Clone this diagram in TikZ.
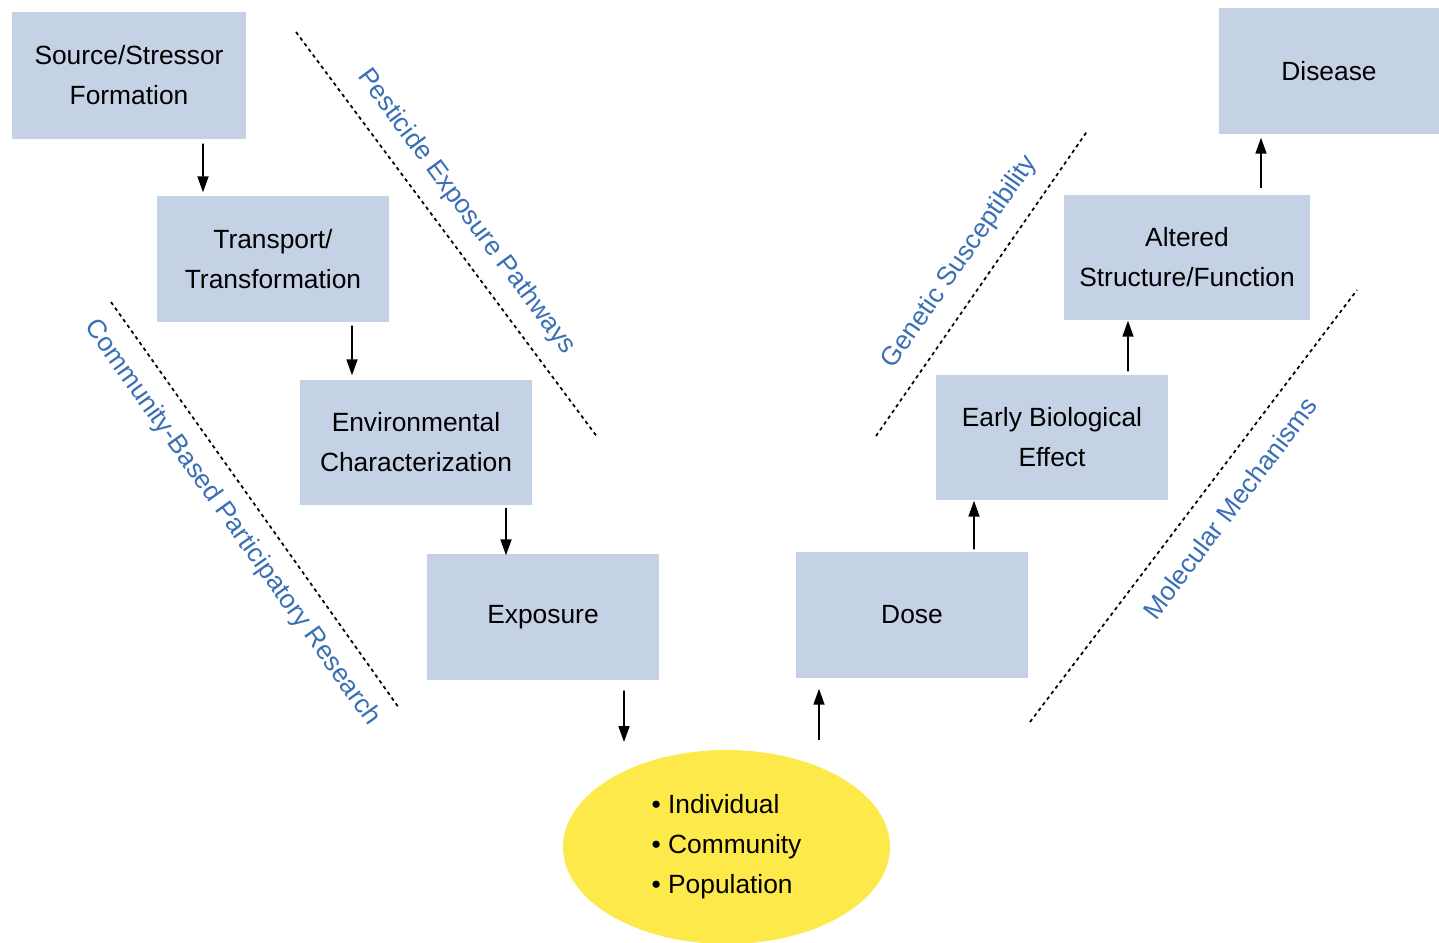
\documentclass[tikz,border=0pt]{standalone}
\usepackage{fontspec}
\setmainfont{Liberation Sans}
\usetikzlibrary{arrows.meta,shapes.geometric}
\definecolor{boxblue}{HTML}{C5D2E6}
\definecolor{labblue}{HTML}{3A6EB5}
\definecolor{popyellow}{HTML}{FDE94A}
\tikzset{
  box/.style={fill=boxblue, align=center, inner sep=0pt, font=\fontsize{7.5}{11.4}\selectfont},
  arr/.style={-{Triangle[length=1.6mm,width=1.1mm]}, line width=0.5pt},
  sep/.style={line width=0.5pt, dash pattern=on 1pt off 1pt},
  lab/.style={text=labblue, font=\fontsize{7.5}{9}\selectfont, inner sep=0pt}
}
\begin{document}
\begin{tikzpicture}
\useasboundingbox (0,0) rectangle (14.39,-9.43);
% exposure side
\node[box, minimum width=2.34cm, minimum height=1.27cm] (source) at (1.29,-0.755) {Source/Stressor\\Formation};
\node[box, minimum width=2.32cm, minimum height=1.26cm] (transport) at (2.73,-2.59) {Transport/\\Transformation};
\node[box, minimum width=2.32cm, minimum height=1.25cm] (envchar) at (4.16,-4.425) {Environmental\\Characterization};
\node[box, minimum width=2.32cm, minimum height=1.26cm] (exposure) at (5.43,-6.17) {Exposure};
% effect side
\node[box, minimum width=2.32cm, minimum height=1.26cm] (dose) at (9.12,-6.15) {Dose};
\node[box, minimum width=2.32cm, minimum height=1.25cm] (early) at (10.52,-4.375) {Early Biological\\Effect};
\node[box, minimum width=2.46cm, minimum height=1.25cm] (altered) at (11.87,-2.575) {Altered\\Structure/Function};
\node[box, minimum width=2.20cm, minimum height=1.26cm] (disease) at (13.29,-0.71) {Disease};
% population
\node[ellipse, fill=popyellow, minimum width=3.27cm, minimum height=1.94cm, align=left,
  font=\fontsize{7.5}{11.4}\selectfont] (groups) at (7.265,-8.47) {• Individual\\• Community\\• Population};
\coordinate (expoend) at (6.24,-7.42);
\coordinate (dosestart) at (8.19,-7.40);
% arrows
\draw[arr] ([xshift=0.74cm,yshift=-0.04cm]source.south) -- ([xshift=-0.70cm,yshift=0.03cm]transport.north);
\draw[arr] ([xshift=0.79cm,yshift=-0.03cm]transport.south) -- ([xshift=-0.64cm,yshift=0.04cm]envchar.north);
\draw[arr] ([xshift=0.90cm,yshift=-0.02cm]envchar.south) -- ([xshift=-0.37cm,yshift=-0.02cm]exposure.north);
\draw[arr] ([xshift=0.81cm,yshift=-0.10cm]exposure.south) -- (expoend);
\draw[arr] (dosestart) -- ([xshift=-0.93cm,yshift=-0.10cm]dose.south);
\draw[arr] ([xshift=0.62cm,yshift=0.02cm]dose.north) -- ([xshift=-0.78cm]early.south);
\draw[arr] ([xshift=0.76cm,yshift=0.03cm]early.north) -- ([xshift=-0.59cm]altered.south);
\draw[arr] ([xshift=0.74cm,yshift=0.06cm]altered.north) -- ([xshift=-0.68cm,yshift=-0.03cm]disease.south);
% dotted separators
\draw[sep] (2.96,-0.32) -- (5.98,-4.38);
\draw[sep] (1.11,-3.02) -- (3.99,-7.08);
\draw[sep] (8.76,-4.36) -- (10.88,-1.30);
\draw[sep] (10.30,-7.22) -- (13.57,-2.90);
% labels
\node[lab, rotate=-53.4] (pathways) at (4.66,-2.12) {Pesticide Exposure Pathways};
\node[lab, rotate=-54.6] (cbpr) at (2.32,-5.23) {Community-Based Participatory Research};
\node[lab, rotate=55.3] (genetic) at (9.60,-2.62) {Genetic Susceptibility};
\node[lab, rotate=52.9] (molecular) at (12.30,-5.08) {Molecular Mechanisms};
\end{tikzpicture}
\end{document}
